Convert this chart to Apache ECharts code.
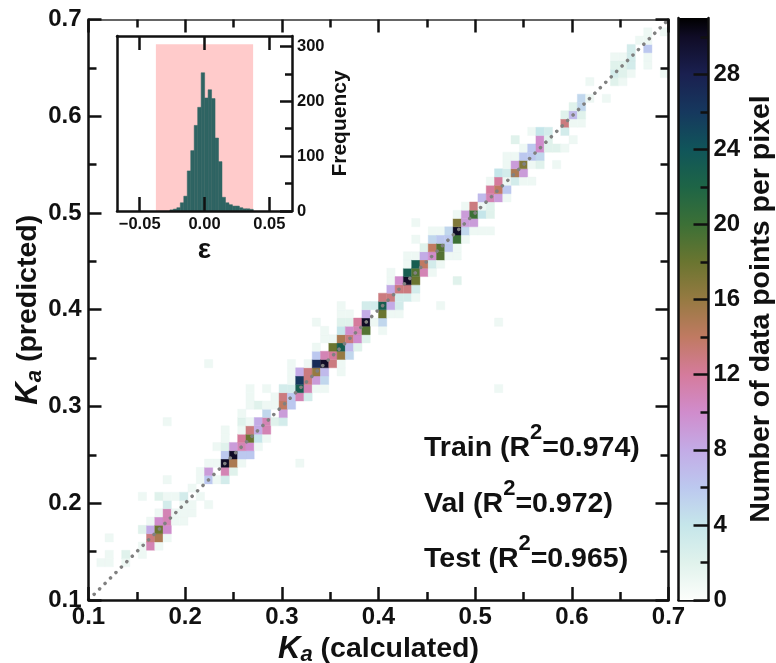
<!DOCTYPE html>
<html><head><meta charset="utf-8">
<style>html,body{margin:0;padding:0;background:#fff}#c{width:776px;height:663px}</style>
<script src="https://cdn.jsdelivr.net/npm/echarts@6/dist/echarts.min.js"></script>
</head><body><div id="c"></div>
<script>
// ---- data ----
const binCount = 70;                 // 2D histogram bins over 0.1..0.7
// [column, row, points per pixel]
const cells = [
[1,4,1],[2,4,1],[2,5,1],[2,7,1],[4,4,1],[4,5,2],[6,5,1],[6,6,1],[6,8,2],[6,12,1],
[7,6,11],[7,7,13],[7,8,8],[7,9,1],[8,6,1],[8,7,15],[8,8,18],[8,9,10],[8,10,1],[8,12,2],
[9,7,1],[9,8,10],[9,9,11],[9,10,11],[9,11,3],[9,12,1],[9,14,1],[9,21,1],
[10,9,1],[10,10,1],[10,12,1],[11,9,1],[11,10,1],[11,11,1],[11,12,3],[12,10,1],[12,11,1],[12,13,1],
[13,12,1],[13,14,1],[13,15,1],[14,11,1],[14,14,6],[14,15,9],[14,16,1],[14,28,1],[15,14,1],[15,16,1],[15,18,1],
[16,14,3],[16,15,11],[16,16,30],[16,17,6],[16,18,2],[16,19,1],[16,20,1],[17,15,2],[17,16,15],[17,17,30],[17,18,9],
[18,16,1],[18,17,6],[18,18,11],[18,19,12],[18,20,1],[18,21,2],[18,22,1],
[19,17,6],[19,18,10],[19,19,18],[19,20,13],[19,21,1],[19,23,1],[19,24,1],[19,25,1],
[20,18,1],[20,19,4],[20,20,8],[20,21,8],[20,23,2],[21,19,1],[21,20,11],[21,21,11],[21,22,5],[21,23,1],[21,25,1],
[22,21,2],[22,23,1],[22,24,1],[23,21,3],[23,22,9],[23,23,14],[23,24,13],[23,25,3],
[24,23,6],[24,24,6],[24,25,3],[24,26,1],[24,27,1],[24,28,1],[25,16,1],[25,24,11],[25,25,23],[25,26,26],[25,27,8],
[26,24,3],[26,25,11],[26,26,13],[26,27,13],[26,28,1],[27,25,1],[27,26,9],[27,27,16],[27,28,27],[27,29,6],[27,30,1],[27,33,1],
[28,25,1],[28,26,5],[28,27,7],[28,28,30],[28,29,11],[28,31,1],[28,32,1],[29,28,13],[29,29,12],[29,30,18],[29,31,1],
[30,27,1],[30,28,1],[30,29,16],[30,30,23],[30,31,15],[30,32,4],[30,33,2],[30,34,1],[30,35,1],
[31,29,5],[31,30,7],[31,31,13],[31,32,10],[31,33,2],[31,34,1],[32,30,2],[32,31,10],[32,32,11],[32,33,12],
[33,31,2],[33,32,19],[33,33,30],[33,34,8],[33,35,3],[34,33,1],[34,35,3],
[35,32,1],[35,33,5],[35,34,18],[35,35,23],[35,36,13],[36,34,1],[36,35,8],[36,36,13],[36,37,8],[36,38,1],[36,39,1],
[37,34,1],[37,35,3],[37,36,3],[37,37,13],[37,38,10],[38,36,3],[38,37,13],[38,38,30],[38,39,23],[38,40,1],[38,41,1],
[39,36,1],[39,37,3],[39,38,18],[39,39,19],[39,40,23],[39,41,1],[39,43,1],[39,45,1],
[40,39,11],[40,40,14],[40,41,8],[40,42,2],[41,39,1],[41,40,3],[41,41,10],[41,42,14],[41,43,5],[41,44,1],
[42,35,1],[42,40,1],[42,41,19],[42,42,19],[42,43,6],[42,44,1],[43,41,1],[43,42,6],[43,43,6],[43,44,5],
[44,38,2],[44,41,1],[44,42,1],[44,43,20],[44,44,30],[44,45,17],[44,46,1],[45,43,1],[45,44,5],[45,45,9],[45,46,9],[45,47,1],
[46,44,1],[46,45,9],[46,46,20],[46,47,13],[47,44,1],[47,46,4],[47,47,1],[47,48,7],[48,44,1],[48,46,2],[48,47,2],[48,48,11],[48,49,12],[48,50,1],
[49,25,1],[49,33,1],[49,48,9],[49,49,14],[49,50,12],[49,51,4],
[50,48,1],[50,49,6],[50,50,1],[50,51,3],[50,52,1],[50,53,1],[51,50,3],[51,51,15],[51,52,9],[51,53,1],[51,55,2],
[52,50,1],[52,51,9],[52,52,17],[52,53,6],[52,54,1],[53,50,1],[53,52,1],[53,53,6],[53,54,6],[53,56,1],
[54,52,2],[54,53,5],[54,54,10],[54,55,10],[54,56,4],[55,54,2],[55,55,2],[55,56,3],[56,52,1],[56,54,2],
[57,54,1],[57,56,3],[57,57,13],[57,58,2],[58,55,1],[58,57,1],[58,58,7],[58,59,2],[59,57,1],[59,58,2],[59,59,5],[59,60,5],
[60,60,1],[60,62,1],[62,60,1],[63,62,2],[63,63,3],[63,64,2],[63,65,1],[64,62,1],[64,63,2],[64,64,2],[64,65,1],
[65,63,1],[65,64,3],[65,65,3],[65,66,3],[66,67,1],[67,64,1],[67,65,1],[67,66,6],[67,67,1],[67,68,1],[69,63,1],[69,68,1]
];
const diagonal = [[0.1,0.1],[0.7,0.7]];

const histStart = -0.0267;
const histBinWidth = 0.00268;
const histCounts = [2,3.5,6,15,27,73,110,156,189,252,206,221,205,133,90,25,15,11.5,9,9,6,4,4,3];
const errorBand = [-0.0375,0.0375];
const errorBandTop = 304;
const insetXTicks = [-0.05,0,0.05];
const insetYTicks = [0,100,200,300];
const insetYMinor = [50,150,250];

const cbarMax = 31;
const cbarTicks = [0,4,8,12,16,20,24,28];
const cbarMinor = [2,6,10,14,18,22,26,30];
const cmapValues = [0,2,4,6,8,10,12,14,16,18,20,22,24,26,28,30,31];
const cmapColors = ['#fcfefb','#e0f2ec','#c5e6ea','#bcc8ef','#c3abe6','#d08ccc','#d57b9c','#c07a62','#967a42','#6a7530','#3c7036','#1e6546','#10555a','#16385e','#1a2050','#100c26','#000000'];

const scoreLabels = ['Train','Val','Test'];
const scoreValues = ['0.974','0.972','0.965'];

// ---- helpers ----
const FONT = '"Liberation Sans", Arial, sans-serif';
function hex(c){return [1,3,5].map(k=>parseInt(c.substr(k,2),16));}
function colorAt(v){
  let k=0; while(k<cmapValues.length-2 && v>cmapValues[k+1]) k++;
  const t=(v-cmapValues[k])/(cmapValues[k+1]-cmapValues[k]);
  const a=hex(cmapColors[k]),b=hex(cmapColors[k+1]);
  return 'rgb('+a.map((x,n)=>Math.round(x+(b[n]-x)*t)).join(',')+')';
}
const binW = 0.6/binCount;
function rectBetween(api,x0,y0,x1,y1,style){
  const p0=api.coord([x0,y0]),p1=api.coord([x1,y1]);
  return {type:'rect',shape:{x:p0[0],y:p1[1],width:p1[0]-p0[0],height:p0[1]-p1[1]},style};
}
const line=(w,c)=>({show:true,onZero:false,lineStyle:{color:c||'#111',width:w}});
const hiddenLine={show:false,onZero:false};
const tick=(len,w)=>({show:true,inside:true,length:len,lineStyle:{color:'#111',width:w||2.5}});
const label=(size,margin,fmt)=>({show:true,fontFamily:FONT,fontWeight:'bold',fontSize:size,color:'#111',margin,formatter:fmt});
const fmt1=v=>Number(v).toFixed(1);
const fmtInset=v=>{const n=Number(v);return (n<0?'\u2212':'')+Math.abs(n).toFixed(2);};
const titleRich={
  k:{fontFamily:FONT,fontWeight:'bold',fontStyle:'italic',fontSize:31,color:'#111',lineHeight:34,verticalAlign:'middle'},
  a:{fontFamily:FONT,fontWeight:'bold',fontStyle:'italic',fontSize:22,color:'#111',lineHeight:34,verticalAlign:'bottom'},
  t:{fontFamily:FONT,fontWeight:'bold',fontSize:28.5,color:'#111',lineHeight:34,verticalAlign:'middle'}
};
const off={show:false};

const option={
  animation:false,
  backgroundColor:'#fff',
  grid:[
    {left:88.5,top:19.5,width:580,height:580.5,outerBoundsMode:'none'},
    {left:117,top:36,width:175,height:175,show:true,backgroundColor:'#fff',borderWidth:0,outerBoundsMode:'none'},
    {left:678.5,top:18,width:30,height:582,outerBoundsMode:'none'}
  ],
  xAxis:[
    {gridIndex:0,type:'value',min:0.1,max:0.7,interval:0.1,position:'bottom',z:5,
      axisLine:line(2.5),axisTick:tick(13),minorTick:{show:true,splitNumber:2,length:8,lineStyle:{color:'#111',width:2.5}},
      axisLabel:label(24,5,fmt1),splitLine:off,minorSplitLine:off,
      name:'{k|K}{a|a}{t| (calculated)}',nameLocation:'middle',nameGap:30,nameTextStyle:{rich:titleRich}},
    {gridIndex:0,type:'value',min:0.1,max:0.7,interval:0.1,position:'top',z:5,
      axisLine:line(1.5,'#333'),axisTick:tick(13),minorTick:{show:true,splitNumber:2,length:8,lineStyle:{color:'#111',width:2.5}},
      axisLabel:off,splitLine:off,minorSplitLine:off},
    {gridIndex:1,type:'value',min:-0.0675,max:0.0675,position:'bottom',z:5,
      axisLine:line(2.5),axisTick:Object.assign(tick(14),{customValues:insetXTicks}),
      axisLabel:Object.assign(label(16.5,5,fmtInset),{customValues:insetXTicks}),splitLine:off,
      name:'\u03B5',nameLocation:'middle',nameGap:25,nameTextStyle:{fontFamily:FONT,fontWeight:'bold',fontSize:28,color:'#111'}},
    {gridIndex:1,type:'value',min:-0.0675,max:0.0675,position:'top',z:5,
      axisLine:line(2.5),axisTick:Object.assign(tick(14),{customValues:insetXTicks}),axisLabel:off,splitLine:off},
    {gridIndex:2,type:'value',min:0,max:1,position:'bottom',axisLine:line(2.5),axisTick:off,axisLabel:off,splitLine:off}
  ],
  yAxis:[
    {gridIndex:0,type:'value',min:0.1,max:0.7,interval:0.1,position:'left',z:5,
      axisLine:line(2.5),axisTick:tick(13),minorTick:{show:true,splitNumber:2,length:8,lineStyle:{color:'#111',width:2.5}},
      axisLabel:label(24,7,fmt1),splitLine:off,minorSplitLine:off,
      name:'{k|K}{a|a}{t| (predicted)}',nameLocation:'middle',nameGap:43,nameRotate:90,nameMoveOverlap:false,nameTextStyle:{rich:titleRich}},
    {gridIndex:0,type:'value',min:0.1,max:0.7,interval:0.1,position:'right',z:5,
      axisLine:line(2.5),axisTick:tick(13),minorTick:{show:true,splitNumber:2,length:8,lineStyle:{color:'#111',width:2.5}},
      axisLabel:off,splitLine:off,minorSplitLine:off},
    {gridIndex:1,type:'value',min:0,max:319,position:'right',z:5,
      axisLine:line(2.5),axisTick:Object.assign(tick(12),{customValues:insetYTicks}),
      axisLabel:Object.assign(label(16.5,5),{customValues:insetYTicks}),splitLine:off,
      name:'Frequency',nameLocation:'middle',nameGap:38,nameRotate:90,
      nameTextStyle:{fontFamily:FONT,fontWeight:'bold',fontSize:21,color:'#111'}},
    {gridIndex:1,type:'value',min:0,max:319,position:'right',z:5,
      axisLine:hiddenLine,axisTick:Object.assign(tick(7),{customValues:insetYMinor}),axisLabel:off,splitLine:off},
    {gridIndex:1,type:'value',min:0,max:319,position:'left',z:5,
      axisLine:line(2.5),axisTick:off,axisLabel:off,splitLine:off},
    {gridIndex:2,type:'value',min:0,max:cbarMax,position:'right',z:5,
      axisLine:line(2.5),axisTick:Object.assign(tick(15),{customValues:cbarTicks}),
      axisLabel:Object.assign(label(24,5),{customValues:cbarTicks}),splitLine:off,
      name:'Number of data points per pixel',nameLocation:'middle',nameGap:38,nameRotate:90,
      nameTextStyle:{fontFamily:FONT,fontWeight:'bold',fontSize:28.5,color:'#111'}},
    {gridIndex:2,type:'value',min:0,max:cbarMax,position:'right',z:5,
      axisLine:hiddenLine,axisTick:Object.assign(tick(8),{customValues:cbarMinor}),axisLabel:off,splitLine:off},
    {gridIndex:2,type:'value',min:0,max:cbarMax,position:'left',z:5,
      axisLine:line(2.5),axisTick:off,axisLabel:off,splitLine:off}
  ],
  series:[
    {type:'custom',name:'density',xAxisIndex:0,yAxisIndex:0,coordinateSystem:'cartesian2d',clip:true,z:2,
      data:cells,encode:{x:0,y:1},silent:true,
      renderItem:(p,api)=>{
        const i=api.value(0),j=api.value(1),c=api.value(2);
        const x0=0.1+i*binW,y0=0.1+j*binW;
        const col=colorAt(c);
        return rectBetween(api,x0,y0,x0+binW,y0+binW,{fill:col,stroke:col,lineWidth:0.4});
      }},
    {type:'line',name:'identity',xAxisIndex:0,yAxisIndex:0,data:diagonal,showSymbol:false,z:3,silent:true,
      lineStyle:{color:'#808080',width:3.5,type:[0.1,7.6],cap:'round',dashOffset:-8}},
    {type:'custom',name:'band',xAxisIndex:2,yAxisIndex:2,data:[[errorBand[0],errorBandTop]],encode:{x:0,y:1},z:2,silent:true,
      renderItem:(p,api)=>rectBetween(api,errorBand[0],0,errorBand[1],errorBandTop,{fill:'#ffcbcb'})},
    {type:'custom',name:'errors',xAxisIndex:2,yAxisIndex:2,z:3,silent:true,
      data:histCounts.map((c,k)=>[histStart+k*histBinWidth,c]),encode:{x:0,y:1},
      renderItem:(p,api)=>{
        const x=api.value(0);
        return rectBetween(api,x,0,x+histBinWidth,api.value(1),{fill:'#2f6463',stroke:'#2f6463',lineWidth:0.5});
      }},
    {type:'custom',name:'colorbar',xAxisIndex:4,yAxisIndex:5,data:[[0,cbarMax]],encode:{x:0,y:1},z:2,silent:true,
      renderItem:(p,api)=>rectBetween(api,0,0,1,cbarMax,{fill:{type:'linear',x:0,y:0,x2:0,y2:1,
        colorStops:cmapValues.map((v,k)=>({offset:1-v/cbarMax,color:cmapColors[k]})).reverse()}})}
  ],
  graphic:scoreLabels.map((name,k)=>({
    type:'text',left:424,top:[422,478,533][k],z:20,silent:true,
    style:{
      text:'{m|'+name+' (R}{s|2}{m|='+scoreValues[k]+')}',
      rich:{
        m:{fontFamily:FONT,fontWeight:'bold',fontSize:28.5,fill:'#111',lineHeight:41,verticalAlign:'bottom'},
        s:{fontFamily:FONT,fontWeight:'bold',fontSize:22,fill:'#111',lineHeight:28,verticalAlign:'top'}
      }
    }
  }))
};
const chart=echarts.init(document.getElementById('c'),null,{renderer:'canvas'});
chart.setOption(option);
</script></body></html>
